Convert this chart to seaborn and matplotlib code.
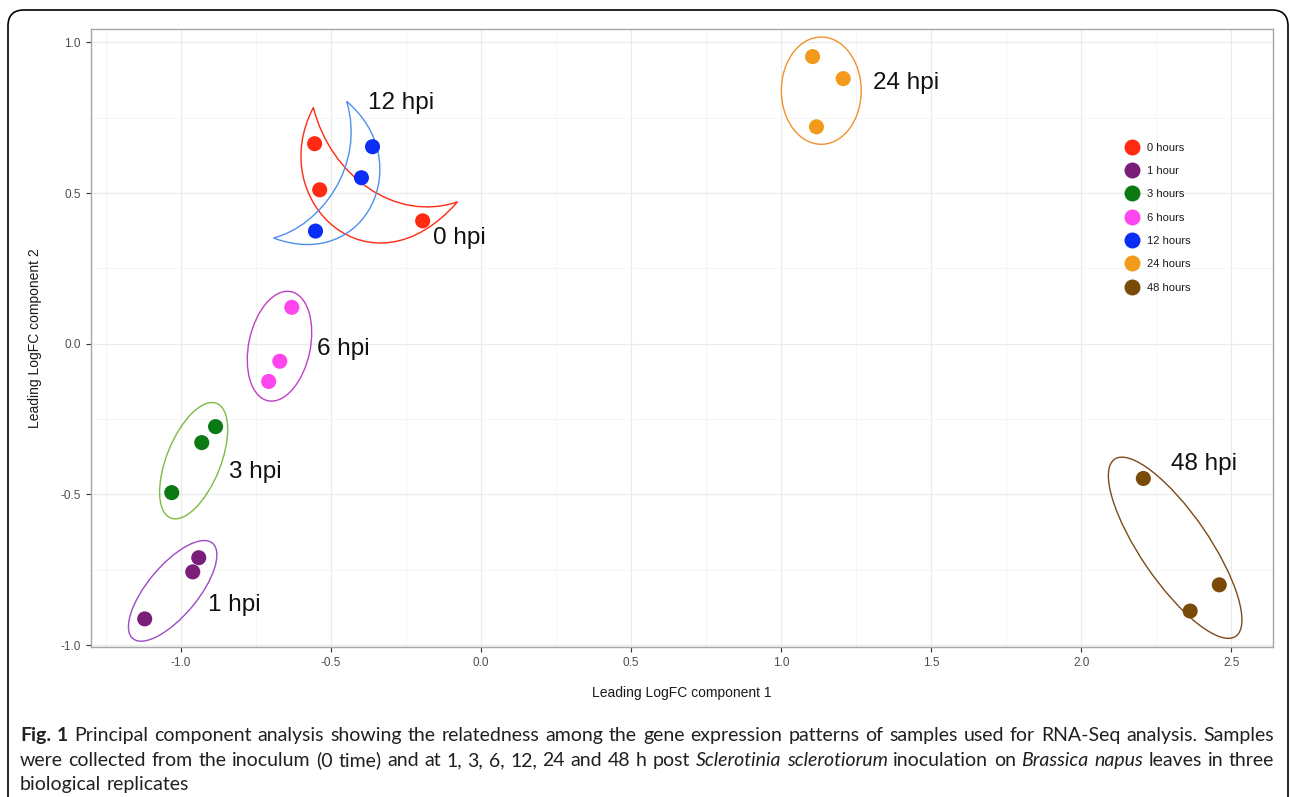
import matplotlib
matplotlib.use("Agg")
import numpy as np
import pandas as pd
import matplotlib.pyplot as plt
import seaborn as sns
from matplotlib.patches import Ellipse, PathPatch, FancyBboxPatch
from matplotlib.path import Path
from matplotlib.lines import Line2D
from matplotlib.transforms import IdentityTransform
from matplotlib.ticker import FixedLocator, FormatStrFormatter

# ---------------- data ----------------
groups = ["0 hours", "1 hour", "3 hours", "6 hours", "12 hours", "24 hours", "48 hours"]
group_colors = ["#FF2A12", "#7B1E7A", "#0B7A12", "#FF45EE", "#0A2EF5", "#F39A1D", "#7A4A08"]

x_0h = [-0.554, -0.537, -0.194]
y_0h = [0.664, 0.511, 0.408]
x_1h = [-0.940, -0.960, -1.120]
y_1h = [-0.710, -0.757, -0.913]
x_3h = [-0.884, -0.930, -1.030]
y_3h = [-0.275, -0.328, -0.494]
x_6h = [-0.630, -0.670, -0.707]
y_6h = [0.121, -0.058, -0.125]
x_12h = [-0.361, -0.398, -0.551]
y_12h = [0.654, 0.551, 0.374]
x_24h = [1.105, 1.207, 1.118]
y_24h = [0.953, 0.880, 0.720]
x_48h = [2.207, 2.460, 2.363]
y_48h = [-0.447, -0.800, -0.887]

xs = [x_0h, x_1h, x_3h, x_6h, x_12h, x_24h, x_48h]
ys = [y_0h, y_1h, y_3h, y_6h, y_12h, y_24h, y_48h]

hpi_labels = ["0 hpi", "1 hpi", "3 hpi", "6 hpi", "12 hpi", "24 hpi", "48 hpi"]
hpi_label_x = [-0.161, -0.910, -0.840, -0.547, -0.377, 1.308, 2.300]
hpi_label_y = [0.350, -0.867, -0.424, -0.018, 0.800, 0.867, -0.398]

# ellipse annotations: center x, center y, width, height, angle, colour
ell_groups = ["1 hpi", "3 hpi", "6 hpi", "24 hpi", "48 hpi"]
ell_cx = [-1.027, -0.957, -0.671, 1.134, 2.313]
ell_cy = [-0.820, -0.388, -0.008, 0.840, -0.677]
ell_w = [0.413, 0.410, 0.370, 0.266, 0.713]
ell_h = [0.167, 0.180, 0.205, 0.356, 0.227]
ell_angle = [50, 68, 78, 0, -55.5]
ell_colors = ["#9B4CC4", "#7DBB42", "#C03FC4", "#F0922B", "#7B4A1A"]

# crescent annotations (outer curve then inner curve, cubic Bezier control points)
red_crescent = [(-0.558, 0.784), (-0.722, 0.474), (-0.367, 0.141), (-0.078, 0.471),
                (-0.284, 0.401), (-0.501, 0.557), (-0.558, 0.784)]
blue_crescent = [(-0.447, 0.804), (-0.212, 0.607), (-0.380, 0.236), (-0.691, 0.351),
                 (-0.534, 0.391), (-0.384, 0.591), (-0.447, 0.804)]

x_label = "Leading LogFC component 1"
y_label = "Leading LogFC component 2"
x_ticks = [-1.0, -0.5, 0.0, 0.5, 1.0, 1.5, 2.0, 2.5]
y_ticks = [-1.0, -0.5, 0.0, 0.5, 1.0]

caption_lines = [
    [("Fig. 1", "b"), ("Principal component analysis showing the relatedness among the gene expression patterns of samples used for RNA-Seq analysis. Samples", "n")],
    [("were collected from the inoculum (0 time) and at 1, 3, 6, 12, 24 and 48 h post", "n"),
     ("Sclerotinia sclerotiorum", "i"), ("inoculation on", "n"), ("Brassica napus", "i"),
     ("leaves in three", "n")],
    [("biological replicates", "n")],
]

# ---------------- figure ----------------
W, H = 1290, 797
fig = plt.figure(figsize=(W / 100, H / 100), dpi=100)
fig.patch.set_facecolor("white")

ax_l, ax_r, ax_t, ax_b = 91, 1273, 28.5, 647
ax = fig.add_axes([ax_l / W, 1 - ax_b / H, (ax_r - ax_l) / W, (ax_b - ax_t) / H])

plot_font = "Liberation Sans"

rows = []
for g, xx, yy in zip(groups, xs, ys):
    for a, b in zip(xx, yy):
        rows.append({"x": a, "y": b, "group": g})
df = pd.DataFrame(rows)
palette = dict(zip(groups, group_colors))

sns.scatterplot(data=df, x="x", y="y", hue="group", hue_order=groups, palette=palette,
                s=118, linewidth=0, ax=ax, legend=False, zorder=5)

# limits with 5% expansion (ggplot style)
allx = np.concatenate([np.array(v) for v in xs])
ally = np.concatenate([np.array(v) for v in ys])
rx = allx.max() - allx.min()
ry = ally.max() - ally.min()
ax.set_xlim(allx.min() - 0.05 * rx, allx.max() + 0.05 * rx)
ax.set_ylim(ally.min() - 0.05 * ry, ally.max() + 0.05 * ry)

ax.xaxis.set_major_locator(FixedLocator(x_ticks))
ax.yaxis.set_major_locator(FixedLocator(y_ticks))
xminor = [t + 0.25 for t in [-1.5] + x_ticks]
yminor = [t + 0.25 for t in [-1.5] + y_ticks]
ax.xaxis.set_minor_locator(FixedLocator(xminor))
ax.yaxis.set_minor_locator(FixedLocator(yminor))
ax.xaxis.set_major_formatter(FormatStrFormatter("%.1f"))
ax.yaxis.set_major_formatter(FormatStrFormatter("%.1f"))

ax.set_facecolor("white")
ax.grid(True, which="major", color="#EBEBEB", linewidth=0.9, zorder=0)
ax.grid(True, which="minor", color="#F4F4F4", linewidth=0.6, zorder=0)
ax.set_axisbelow(True)
for sp in ax.spines.values():
    sp.set_color("#A6A6A6")
    sp.set_linewidth(1.0)
ax.tick_params(which="major", length=3.5, width=0.8, color="#333333", labelsize=8.5,
               labelcolor="#4D4D4D", pad=4)
ax.tick_params(which="minor", length=0)
for lab in ax.get_xticklabels() + ax.get_yticklabels():
    lab.set_fontfamily(plot_font)

ax.set_xlabel(x_label, fontsize=10, family=plot_font, color="#1A1A1A")
ax.set_ylabel(y_label, fontsize=10, family=plot_font, color="#1A1A1A")
ax.xaxis.set_label_coords((682 - ax_l) / (ax_r - ax_l), (ax_b - 693) / (ax_b - ax_t))
ax.xaxis.label.set_va("center")
ax.yaxis.set_label_coords((35 - ax_l) / (ax_r - ax_l), 0.5)
ax.yaxis.label.set_va("center")

# ellipses
for cx, cy, w, h, ang, c in zip(ell_cx, ell_cy, ell_w, ell_h, ell_angle, ell_colors):
    ax.add_patch(Ellipse((cx, cy), w, h, angle=ang, fill=False, edgecolor=c,
                         linewidth=1.0, zorder=4))

# crescents
codes = [Path.MOVETO, Path.CURVE4, Path.CURVE4, Path.CURVE4,
         Path.CURVE4, Path.CURVE4, Path.CURVE4]
ax.add_patch(PathPatch(Path(red_crescent, codes), fill=False, edgecolor="#FF2A12",
                       linewidth=1.0, zorder=4))
ax.add_patch(PathPatch(Path(blue_crescent, codes), fill=False, edgecolor="#4F8FEF",
                       linewidth=1.0, zorder=4))

# group labels
for t, lx, ly in zip(hpi_labels, hpi_label_x, hpi_label_y):
    ax.text(lx, ly, t, fontsize=17.5, family=plot_font, color="#111111",
            ha="left", va="center", zorder=6)

# legend
handles = [Line2D([], [], marker="o", linestyle="", markersize=11.5, color=c,
                  markeredgewidth=0) for c in group_colors]
leg = ax.legend(handles, groups, loc="upper left",
                bbox_to_anchor=((1124 - ax_l) / (ax_r - ax_l), (ax_b - 142.5) / (ax_b - ax_t)),
                frameon=False, handlelength=1.5, handletextpad=0.55,
                labelspacing=1.2, borderpad=0, borderaxespad=0,
                prop={"family": plot_font, "size": 8})
for txt in leg.get_texts():
    txt.set_color("#1A1A1A")

# rounded figure border (open at the bottom edge of the image)
border = FancyBboxPatch((8, -60), 1280, H - 10 + 60,
                        boxstyle="round,pad=0,rounding_size=16",
                        transform=IdentityTransform(), fill=False,
                        edgecolor="black", linewidth=1.2, clip_on=False)
fig.patches.append(border)

# caption (justified lines)
cap_family = "Lato"
renderer = fig.canvas.get_renderer()
cap_left, cap_right = 20, 1274
baselines = [H - 741, H - 766, H - 790]

def make_words(size):
    out = []
    for line in caption_lines:
        words = []
        for seg, st in line:
            for wtxt in seg.split(" "):
                kw = dict(family=cap_family, fontsize=size, transform=IdentityTransform(),
                          va="baseline", ha="left", color="#231F20")
                if st == "b":
                    kw["weight"] = "bold"
                if st == "i":
                    kw["style"] = "italic"
                words.append(fig.text(0, 0, wtxt, **kw))
        out.append(words)
    return out

base_size = 14.0
words_all = make_words(base_size)
space_px = 0.26 * base_size * 100 / 72
nat = []
for words in words_all[:2]:
    widths = [wd.get_window_extent(renderer).width for wd in words]
    nat.append(sum(widths) + space_px * (len(words) - 1))
scale = min(1.0, (cap_right - cap_left) / max(nat) * 0.995)
for words in words_all:
    for wd in words:
        wd.remove()
size = base_size * scale
words_all = make_words(size)
space_px = 0.26 * size * 100 / 72

for li, words in enumerate(words_all):
    widths = [wd.get_window_extent(renderer).width for wd in words]
    if li < 2 and len(words) > 1:
        gap = (cap_right - cap_left - sum(widths)) / (len(words) - 1)
    else:
        gap = space_px
    x = cap_left
    for wd, wdt in zip(words, widths):
        wd.set_position((x, baselines[li]))
        x += wdt + gap

fig.savefig("out.png", dpi=100)
